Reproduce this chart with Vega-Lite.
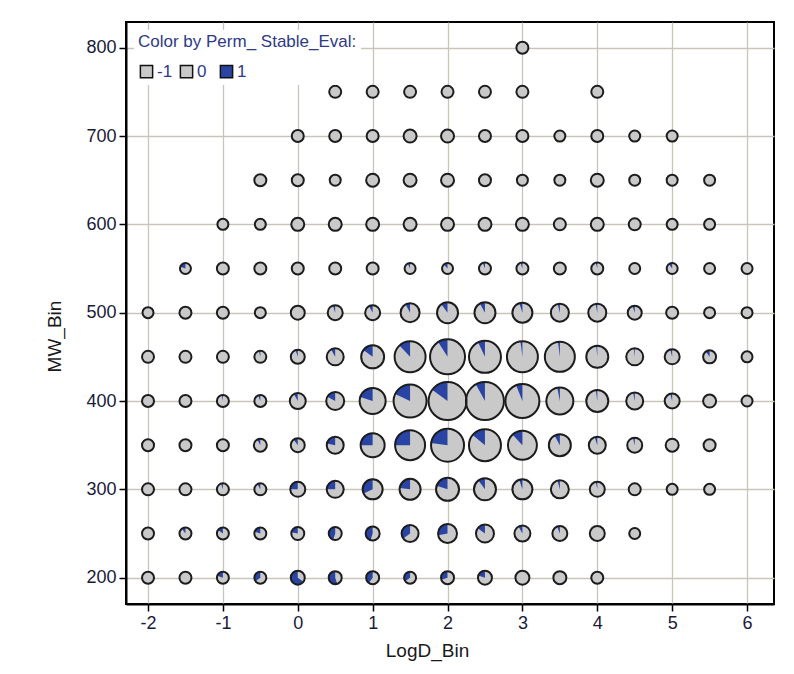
{
  "$schema": "https://vega.github.io/schema/vega-lite/v6.json",
  "width": 648,
  "height": 582,
  "autosize": {"type": "none"},
  "padding": {"left": 126, "top": 22, "right": 20, "bottom": 70},
  "background": "white",
  "config": {
    "font": "Liberation Sans",
    "view": {"stroke": "#000000", "strokeWidth": 2},
    "axis": {
      "grid": true,
      "gridColor": "#c9c5ba",
      "gridWidth": 1.3,
      "domainColor": "#000000",
      "domainWidth": 2,
      "tickColor": "#000000",
      "tickWidth": 1.5,
      "tickSize": 7,
      "labelFont": "Liberation Sans",
      "labelFontSize": 18,
      "labelColor": "#1a1a3a",
      "titleFont": "Liberation Sans",
      "titleFontSize": 19,
      "titleFontWeight": "normal",
      "titleColor": "#1a1a1a"
    }
  },
  "data": {
    "values": [
      {"LogD_Bin": 3, "MW_Bin": 800, "Count": 144, "Frac1": 0},
      {"LogD_Bin": 0.5, "MW_Bin": 750, "Count": 144, "Frac1": 0},
      {"LogD_Bin": 1, "MW_Bin": 750, "Count": 144, "Frac1": 0},
      {"LogD_Bin": 1.5, "MW_Bin": 750, "Count": 144, "Frac1": 0},
      {"LogD_Bin": 2, "MW_Bin": 750, "Count": 144, "Frac1": 0},
      {"LogD_Bin": 2.5, "MW_Bin": 750, "Count": 144, "Frac1": 0},
      {"LogD_Bin": 3, "MW_Bin": 750, "Count": 144, "Frac1": 0},
      {"LogD_Bin": 4, "MW_Bin": 750, "Count": 144, "Frac1": 0},
      {"LogD_Bin": 0, "MW_Bin": 700, "Count": 144, "Frac1": 0},
      {"LogD_Bin": 0.5, "MW_Bin": 700, "Count": 144, "Frac1": 0},
      {"LogD_Bin": 1, "MW_Bin": 700, "Count": 144, "Frac1": 0},
      {"LogD_Bin": 1.5, "MW_Bin": 700, "Count": 169, "Frac1": 0},
      {"LogD_Bin": 2, "MW_Bin": 700, "Count": 169, "Frac1": 0},
      {"LogD_Bin": 2.5, "MW_Bin": 700, "Count": 144, "Frac1": 0},
      {"LogD_Bin": 3, "MW_Bin": 700, "Count": 144, "Frac1": 0},
      {"LogD_Bin": 3.5, "MW_Bin": 700, "Count": 121, "Frac1": 0},
      {"LogD_Bin": 4, "MW_Bin": 700, "Count": 144, "Frac1": 0},
      {"LogD_Bin": 4.5, "MW_Bin": 700, "Count": 121, "Frac1": 0},
      {"LogD_Bin": 5, "MW_Bin": 700, "Count": 121, "Frac1": 0},
      {"LogD_Bin": -0.5, "MW_Bin": 650, "Count": 144, "Frac1": 0},
      {"LogD_Bin": 0, "MW_Bin": 650, "Count": 144, "Frac1": 0},
      {"LogD_Bin": 0.5, "MW_Bin": 650, "Count": 121, "Frac1": 0},
      {"LogD_Bin": 1, "MW_Bin": 650, "Count": 169, "Frac1": 0},
      {"LogD_Bin": 1.5, "MW_Bin": 650, "Count": 169, "Frac1": 0},
      {"LogD_Bin": 2, "MW_Bin": 650, "Count": 169, "Frac1": 0},
      {"LogD_Bin": 2.5, "MW_Bin": 650, "Count": 144, "Frac1": 0},
      {"LogD_Bin": 3, "MW_Bin": 650, "Count": 121, "Frac1": 0},
      {"LogD_Bin": 3.5, "MW_Bin": 650, "Count": 121, "Frac1": 0},
      {"LogD_Bin": 4, "MW_Bin": 650, "Count": 169, "Frac1": 0},
      {"LogD_Bin": 4.5, "MW_Bin": 650, "Count": 121, "Frac1": 0},
      {"LogD_Bin": 5, "MW_Bin": 650, "Count": 121, "Frac1": 0},
      {"LogD_Bin": 5.5, "MW_Bin": 650, "Count": 121, "Frac1": 0},
      {"LogD_Bin": -1, "MW_Bin": 600, "Count": 121, "Frac1": 0},
      {"LogD_Bin": -0.5, "MW_Bin": 600, "Count": 121, "Frac1": 0},
      {"LogD_Bin": 0, "MW_Bin": 600, "Count": 169, "Frac1": 0},
      {"LogD_Bin": 0.5, "MW_Bin": 600, "Count": 169, "Frac1": 0},
      {"LogD_Bin": 1, "MW_Bin": 600, "Count": 169, "Frac1": 0},
      {"LogD_Bin": 1.5, "MW_Bin": 600, "Count": 169, "Frac1": 0},
      {"LogD_Bin": 2, "MW_Bin": 600, "Count": 169, "Frac1": 0},
      {"LogD_Bin": 2.5, "MW_Bin": 600, "Count": 169, "Frac1": 0},
      {"LogD_Bin": 3, "MW_Bin": 600, "Count": 169, "Frac1": 0},
      {"LogD_Bin": 3.5, "MW_Bin": 600, "Count": 144, "Frac1": 0},
      {"LogD_Bin": 4, "MW_Bin": 600, "Count": 169, "Frac1": 0},
      {"LogD_Bin": 4.5, "MW_Bin": 600, "Count": 144, "Frac1": 0},
      {"LogD_Bin": 5, "MW_Bin": 600, "Count": 121, "Frac1": 0},
      {"LogD_Bin": 5.5, "MW_Bin": 600, "Count": 121, "Frac1": 0},
      {"LogD_Bin": -1.5, "MW_Bin": 550, "Count": 121, "Frac1": 0.2},
      {"LogD_Bin": -1, "MW_Bin": 550, "Count": 144, "Frac1": 0},
      {"LogD_Bin": -0.5, "MW_Bin": 550, "Count": 144, "Frac1": 0},
      {"LogD_Bin": 0, "MW_Bin": 550, "Count": 144, "Frac1": 0},
      {"LogD_Bin": 0.5, "MW_Bin": 550, "Count": 144, "Frac1": 0},
      {"LogD_Bin": 1, "MW_Bin": 550, "Count": 144, "Frac1": 0},
      {"LogD_Bin": 1.5, "MW_Bin": 550, "Count": 121, "Frac1": 0.07},
      {"LogD_Bin": 2, "MW_Bin": 550, "Count": 121, "Frac1": 0.12},
      {"LogD_Bin": 2.5, "MW_Bin": 550, "Count": 144, "Frac1": 0.06},
      {"LogD_Bin": 3, "MW_Bin": 550, "Count": 144, "Frac1": 0.05},
      {"LogD_Bin": 3.5, "MW_Bin": 550, "Count": 144, "Frac1": 0},
      {"LogD_Bin": 4, "MW_Bin": 550, "Count": 144, "Frac1": 0.04},
      {"LogD_Bin": 4.5, "MW_Bin": 550, "Count": 121, "Frac1": 0},
      {"LogD_Bin": 5, "MW_Bin": 550, "Count": 121, "Frac1": 0.1},
      {"LogD_Bin": 5.5, "MW_Bin": 550, "Count": 121, "Frac1": 0},
      {"LogD_Bin": 6, "MW_Bin": 550, "Count": 121, "Frac1": 0},
      {"LogD_Bin": -2, "MW_Bin": 500, "Count": 121, "Frac1": 0},
      {"LogD_Bin": -1.5, "MW_Bin": 500, "Count": 144, "Frac1": 0},
      {"LogD_Bin": -1, "MW_Bin": 500, "Count": 144, "Frac1": 0},
      {"LogD_Bin": -0.5, "MW_Bin": 500, "Count": 121, "Frac1": 0},
      {"LogD_Bin": 0, "MW_Bin": 500, "Count": 196, "Frac1": 0},
      {"LogD_Bin": 0.5, "MW_Bin": 500, "Count": 225, "Frac1": 0.05},
      {"LogD_Bin": 1, "MW_Bin": 500, "Count": 225, "Frac1": 0.08},
      {"LogD_Bin": 1.5, "MW_Bin": 500, "Count": 361, "Frac1": 0.08},
      {"LogD_Bin": 2, "MW_Bin": 500, "Count": 441, "Frac1": 0.1},
      {"LogD_Bin": 2.5, "MW_Bin": 500, "Count": 441, "Frac1": 0.08},
      {"LogD_Bin": 3, "MW_Bin": 500, "Count": 400, "Frac1": 0.05},
      {"LogD_Bin": 3.5, "MW_Bin": 500, "Count": 324, "Frac1": 0.04},
      {"LogD_Bin": 4, "MW_Bin": 500, "Count": 324, "Frac1": 0.03},
      {"LogD_Bin": 4.5, "MW_Bin": 500, "Count": 196, "Frac1": 0.05},
      {"LogD_Bin": 5, "MW_Bin": 500, "Count": 144, "Frac1": 0},
      {"LogD_Bin": 5.5, "MW_Bin": 500, "Count": 121, "Frac1": 0},
      {"LogD_Bin": 6, "MW_Bin": 500, "Count": 121, "Frac1": 0},
      {"LogD_Bin": -2, "MW_Bin": 450, "Count": 144, "Frac1": 0},
      {"LogD_Bin": -1.5, "MW_Bin": 450, "Count": 144, "Frac1": 0},
      {"LogD_Bin": -1, "MW_Bin": 450, "Count": 144, "Frac1": 0},
      {"LogD_Bin": -0.5, "MW_Bin": 450, "Count": 144, "Frac1": 0.04},
      {"LogD_Bin": 0, "MW_Bin": 450, "Count": 196, "Frac1": 0.05},
      {"LogD_Bin": 0.5, "MW_Bin": 450, "Count": 289, "Frac1": 0.08},
      {"LogD_Bin": 1, "MW_Bin": 450, "Count": 529, "Frac1": 0.15},
      {"LogD_Bin": 1.5, "MW_Bin": 450, "Count": 961, "Frac1": 0.12},
      {"LogD_Bin": 2, "MW_Bin": 450, "Count": 1225, "Frac1": 0.09},
      {"LogD_Bin": 2.5, "MW_Bin": 450, "Count": 1024, "Frac1": 0.07},
      {"LogD_Bin": 3, "MW_Bin": 450, "Count": 961, "Frac1": 0.02},
      {"LogD_Bin": 3.5, "MW_Bin": 450, "Count": 900, "Frac1": 0.02},
      {"LogD_Bin": 4, "MW_Bin": 450, "Count": 484, "Frac1": 0.015},
      {"LogD_Bin": 4.5, "MW_Bin": 450, "Count": 289, "Frac1": 0.02},
      {"LogD_Bin": 5, "MW_Bin": 450, "Count": 225, "Frac1": 0.04},
      {"LogD_Bin": 5.5, "MW_Bin": 450, "Count": 169, "Frac1": 0.1},
      {"LogD_Bin": 6, "MW_Bin": 450, "Count": 121, "Frac1": 0},
      {"LogD_Bin": -2, "MW_Bin": 400, "Count": 144, "Frac1": 0},
      {"LogD_Bin": -1.5, "MW_Bin": 400, "Count": 144, "Frac1": 0},
      {"LogD_Bin": -1, "MW_Bin": 400, "Count": 144, "Frac1": 0.03},
      {"LogD_Bin": -0.5, "MW_Bin": 400, "Count": 144, "Frac1": 0.06},
      {"LogD_Bin": 0, "MW_Bin": 400, "Count": 256, "Frac1": 0.08},
      {"LogD_Bin": 0.5, "MW_Bin": 400, "Count": 324, "Frac1": 0.17},
      {"LogD_Bin": 1, "MW_Bin": 400, "Count": 676, "Frac1": 0.2},
      {"LogD_Bin": 1.5, "MW_Bin": 400, "Count": 1089, "Frac1": 0.18},
      {"LogD_Bin": 2, "MW_Bin": 400, "Count": 1444, "Frac1": 0.15},
      {"LogD_Bin": 2.5, "MW_Bin": 400, "Count": 1444, "Frac1": 0.08},
      {"LogD_Bin": 3, "MW_Bin": 400, "Count": 1156, "Frac1": 0.06},
      {"LogD_Bin": 3.5, "MW_Bin": 400, "Count": 729, "Frac1": 0.03},
      {"LogD_Bin": 4, "MW_Bin": 400, "Count": 484, "Frac1": 0.02},
      {"LogD_Bin": 4.5, "MW_Bin": 400, "Count": 289, "Frac1": 0.03},
      {"LogD_Bin": 5, "MW_Bin": 400, "Count": 225, "Frac1": 0.04},
      {"LogD_Bin": 5.5, "MW_Bin": 400, "Count": 169, "Frac1": 0},
      {"LogD_Bin": 6, "MW_Bin": 400, "Count": 121, "Frac1": 0},
      {"LogD_Bin": -2, "MW_Bin": 350, "Count": 144, "Frac1": 0},
      {"LogD_Bin": -1.5, "MW_Bin": 350, "Count": 144, "Frac1": 0},
      {"LogD_Bin": -1, "MW_Bin": 350, "Count": 144, "Frac1": 0},
      {"LogD_Bin": -0.5, "MW_Bin": 350, "Count": 169, "Frac1": 0.08},
      {"LogD_Bin": 0, "MW_Bin": 350, "Count": 196, "Frac1": 0.1},
      {"LogD_Bin": 0.5, "MW_Bin": 350, "Count": 289, "Frac1": 0.22},
      {"LogD_Bin": 1, "MW_Bin": 350, "Count": 576, "Frac1": 0.25},
      {"LogD_Bin": 1.5, "MW_Bin": 350, "Count": 900, "Frac1": 0.25},
      {"LogD_Bin": 2, "MW_Bin": 350, "Count": 1089, "Frac1": 0.23},
      {"LogD_Bin": 2.5, "MW_Bin": 350, "Count": 1024, "Frac1": 0.14},
      {"LogD_Bin": 3, "MW_Bin": 350, "Count": 841, "Frac1": 0.12},
      {"LogD_Bin": 3.5, "MW_Bin": 350, "Count": 484, "Frac1": 0.08},
      {"LogD_Bin": 4, "MW_Bin": 350, "Count": 289, "Frac1": 0.05},
      {"LogD_Bin": 4.5, "MW_Bin": 350, "Count": 225, "Frac1": 0.04},
      {"LogD_Bin": 5, "MW_Bin": 350, "Count": 169, "Frac1": 0},
      {"LogD_Bin": 5.5, "MW_Bin": 350, "Count": 144, "Frac1": 0},
      {"LogD_Bin": -2, "MW_Bin": 300, "Count": 144, "Frac1": 0},
      {"LogD_Bin": -1.5, "MW_Bin": 300, "Count": 144, "Frac1": 0},
      {"LogD_Bin": -1, "MW_Bin": 300, "Count": 144, "Frac1": 0.05},
      {"LogD_Bin": -0.5, "MW_Bin": 300, "Count": 144, "Frac1": 0.08},
      {"LogD_Bin": 0, "MW_Bin": 300, "Count": 225, "Frac1": 0.25},
      {"LogD_Bin": 0.5, "MW_Bin": 300, "Count": 289, "Frac1": 0.25},
      {"LogD_Bin": 1, "MW_Bin": 300, "Count": 400, "Frac1": 0.32},
      {"LogD_Bin": 1.5, "MW_Bin": 300, "Count": 441, "Frac1": 0.23},
      {"LogD_Bin": 2, "MW_Bin": 300, "Count": 529, "Frac1": 0.2},
      {"LogD_Bin": 2.5, "MW_Bin": 300, "Count": 484, "Frac1": 0.1},
      {"LogD_Bin": 3, "MW_Bin": 300, "Count": 400, "Frac1": 0.05},
      {"LogD_Bin": 3.5, "MW_Bin": 300, "Count": 324, "Frac1": 0.04},
      {"LogD_Bin": 4, "MW_Bin": 300, "Count": 225, "Frac1": 0.03},
      {"LogD_Bin": 4.5, "MW_Bin": 300, "Count": 144, "Frac1": 0},
      {"LogD_Bin": 5, "MW_Bin": 300, "Count": 121, "Frac1": 0},
      {"LogD_Bin": 5.5, "MW_Bin": 300, "Count": 121, "Frac1": 0},
      {"LogD_Bin": -2, "MW_Bin": 250, "Count": 144, "Frac1": 0},
      {"LogD_Bin": -1.5, "MW_Bin": 250, "Count": 144, "Frac1": 0.1},
      {"LogD_Bin": -1, "MW_Bin": 250, "Count": 144, "Frac1": 0.15},
      {"LogD_Bin": -0.5, "MW_Bin": 250, "Count": 144, "Frac1": 0.2},
      {"LogD_Bin": 0, "MW_Bin": 250, "Count": 169, "Frac1": 0.22},
      {"LogD_Bin": 0.5, "MW_Bin": 250, "Count": 169, "Frac1": 0.45},
      {"LogD_Bin": 1, "MW_Bin": 250, "Count": 196, "Frac1": 0.45},
      {"LogD_Bin": 1.5, "MW_Bin": 250, "Count": 289, "Frac1": 0.35},
      {"LogD_Bin": 2, "MW_Bin": 250, "Count": 361, "Frac1": 0.28},
      {"LogD_Bin": 2.5, "MW_Bin": 250, "Count": 324, "Frac1": 0.15},
      {"LogD_Bin": 3, "MW_Bin": 250, "Count": 256, "Frac1": 0.08},
      {"LogD_Bin": 3.5, "MW_Bin": 250, "Count": 225, "Frac1": 0.06},
      {"LogD_Bin": 4, "MW_Bin": 250, "Count": 225, "Frac1": 0},
      {"LogD_Bin": 4.5, "MW_Bin": 250, "Count": 121, "Frac1": 0},
      {"LogD_Bin": -2, "MW_Bin": 200, "Count": 144, "Frac1": 0},
      {"LogD_Bin": -1.5, "MW_Bin": 200, "Count": 144, "Frac1": 0},
      {"LogD_Bin": -1, "MW_Bin": 200, "Count": 144, "Frac1": 0.2},
      {"LogD_Bin": -0.5, "MW_Bin": 200, "Count": 144, "Frac1": 0.35},
      {"LogD_Bin": 0, "MW_Bin": 200, "Count": 196, "Frac1": 0.65},
      {"LogD_Bin": 0.5, "MW_Bin": 200, "Count": 169, "Frac1": 0.55},
      {"LogD_Bin": 1, "MW_Bin": 200, "Count": 169, "Frac1": 0.4},
      {"LogD_Bin": 1.5, "MW_Bin": 200, "Count": 144, "Frac1": 0.35},
      {"LogD_Bin": 2, "MW_Bin": 200, "Count": 169, "Frac1": 0.3},
      {"LogD_Bin": 2.5, "MW_Bin": 200, "Count": 196, "Frac1": 0.2},
      {"LogD_Bin": 3, "MW_Bin": 200, "Count": 196, "Frac1": 0},
      {"LogD_Bin": 3.5, "MW_Bin": 200, "Count": 169, "Frac1": 0},
      {"LogD_Bin": 4, "MW_Bin": 200, "Count": 144, "Frac1": 0}
    ]
  },
  "encoding": {
    "x": {
      "field": "LogD_Bin",
      "type": "quantitative",
      "scale": {"domain": [-2.294, 6.36], "nice": false, "zero": false},
      "axis": {
        "title": "LogD_Bin",
        "values": [-2, -1, 0, 1, 2, 3, 4, 5, 6],
        "labelExpr": "'' + datum.value",
        "labelBaseline": "alphabetic",
        "labelPadding": 17,
        "titleX": 301,
        "titleY": 52,
        "titleAlign": "center",
        "titleBaseline": "alphabetic"
      }
    },
    "y": {
      "field": "MW_Bin",
      "type": "quantitative",
      "scale": {"domain": [170.2, 829.1], "nice": false, "zero": false},
      "axis": {
        "title": "MW_Bin",
        "values": [200, 300, 400, 500, 600, 700, 800],
        "labelPadding": 3,
        "titleX": -66,
        "titleY": 314,
        "titleAngle": 270,
        "titleAlign": "center",
        "titleBaseline": "alphabetic"
      }
    },
    "radius": {
      "field": "Count",
      "type": "quantitative",
      "stack": null,
      "scale": {"type": "sqrt", "domain": [0, 1600], "range": [0, 20], "zero": true},
      "legend": null
    }
  },
  "layer": [
    {
      "mark": {"type": "arc", "theta": 0, "theta2": 6.2832},
      "encoding": {
        "color": {
          "datum": "0",
          "type": "nominal",
          "scale": {"domain": ["-1", "0", "1"], "range": ["#c9c9c9", "#c9c9c9", "#2a44a3"]},
          "legend": {
            "title": "Color by Perm_ Stable_Eval:",
            "orient": "none",
            "legendX": 8,
            "legendY": 8,
            "direction": "horizontal",
            "fillColor": "white",
            "padding": 4,
            "titleFont": "Liberation Sans",
            "titleFontSize": 17,
            "titleFontWeight": "normal",
            "titleColor": "#2e3a86",
            "titlePadding": 12,
            "titleLimit": 400,
            "labelFont": "Liberation Sans",
            "labelFontSize": 17,
            "labelColor": "#2e3a86",
            "labelOffset": 2,
            "symbolType": "square",
            "symbolSize": 150,
            "columnPadding": 4,
            "gridAlign": "all",
            "encode": {
              "symbols": {"update": {"stroke": {"value": "#111111"}, "strokeWidth": {"value": 1.5}}}
            }
          }
        }
      }
    },
    {
      "transform": [{"filter": "datum.Frac1 > 0"}],
      "mark": {"type": "arc"},
      "encoding": {
        "theta": {
          "field": "Frac1",
          "type": "quantitative",
          "scale": {"domain": [0, 1], "range": [0, -6.2832]}
        },
        "theta2": {"datum": 0},
        "color": {"datum": "1", "type": "nominal"}
      }
    },
    {
      "mark": {"type": "arc", "theta": 0, "theta2": 6.2832, "filled": false, "stroke": "#1c1c1c", "strokeWidth": 2}
    }
  ]
}
